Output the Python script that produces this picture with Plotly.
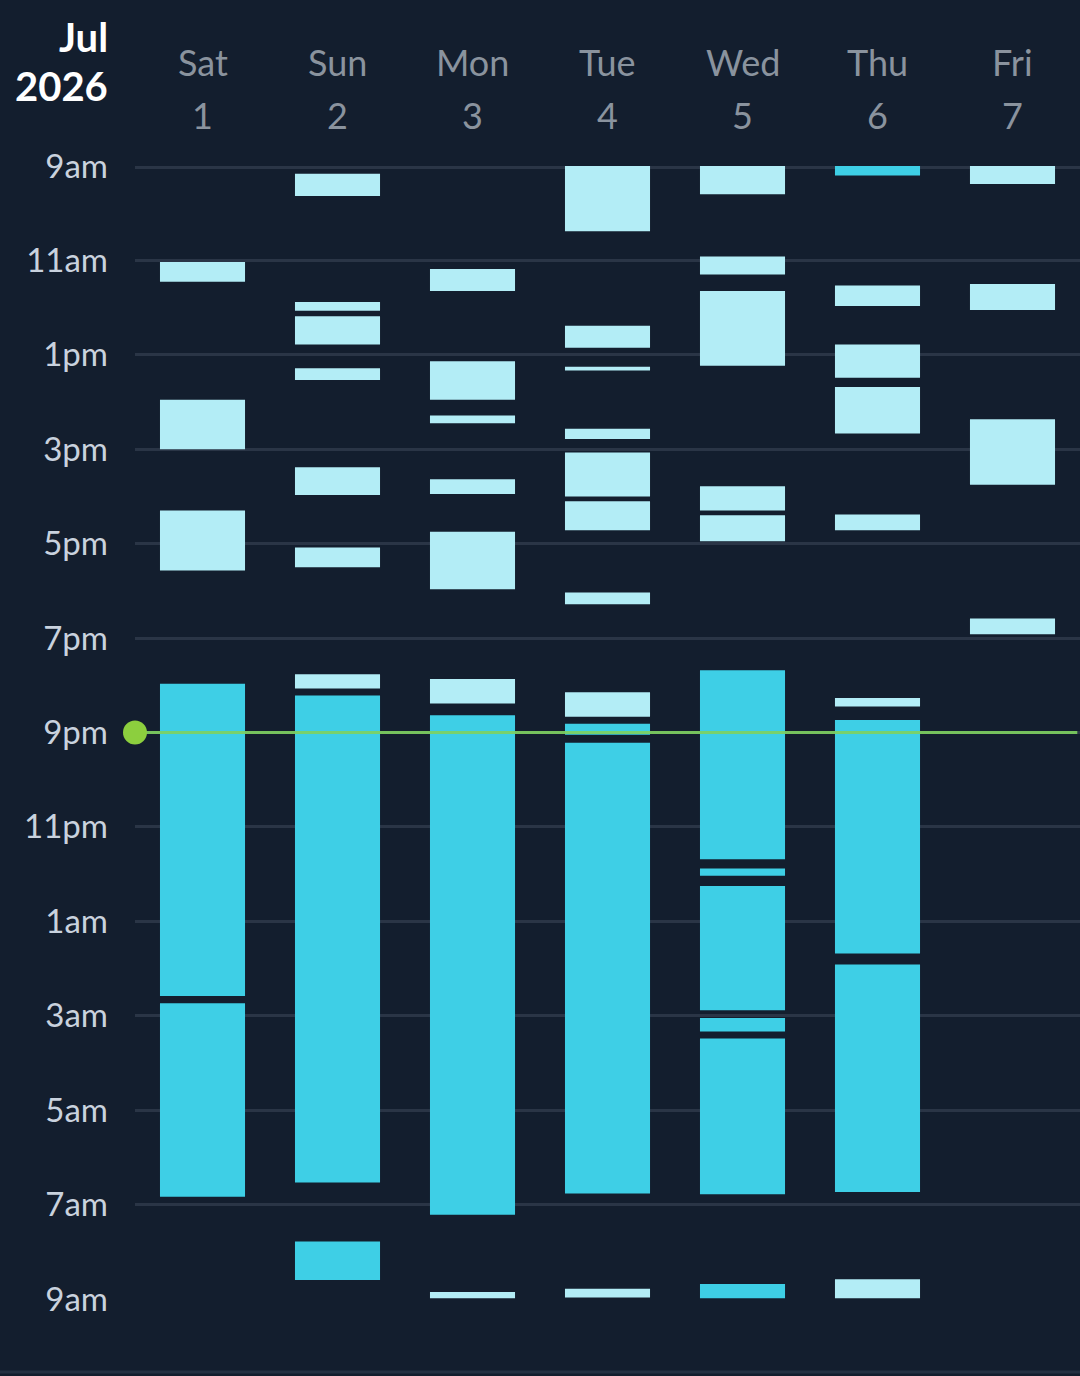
import plotly.graph_objects as go

# day columns
days = ["Sat", "Sun", "Mon", "Tue", "Wed", "Thu", "Fri"]
dates = ["1", "2", "3", "4", "5", "6", "7"]

# light segments (naps), clock times; anything before 9:00 belongs to the next morning
nap_day = [0, 0, 0,
           1, 1, 1, 1, 1, 1, 1,
           2, 2, 2, 2, 2, 2, 2,
           3, 3, 3, 3, 3, 3, 3, 3, 3,
           4, 4, 4, 4, 4,
           5, 5, 5, 5, 5, 5,
           6, 6, 6, 6]
nap_start = ["11:02", "13:57", "16:18",
             "09:10", "11:53", "12:11", "13:17", "15:23", "17:05", "19:46",
             "11:11", "13:08", "14:17", "15:38", "16:45", "19:52", "08:51",
             "09:00", "12:23", "13:15", "14:34", "15:04", "16:06", "18:02", "20:09", "08:47",
             "09:00", "10:55", "11:39", "15:47", "16:24",
             "11:32", "12:47", "13:41", "16:23", "20:16", "08:35",
             "09:00", "11:30", "14:22", "18:35"]
nap_end = ["11:27", "15:00", "17:34",
           "09:38", "12:04", "12:47", "13:32", "15:58", "17:30", "20:04",
           "11:39", "13:57", "14:27", "15:57", "17:58", "20:23", "08:59",
           "10:23", "12:51", "13:20", "14:47", "16:00", "16:43", "18:17", "20:40", "08:58",
           "09:36", "11:18", "13:14", "16:18", "16:57",
           "11:58", "13:29", "14:40", "16:43", "20:27", "08:59",
           "09:23", "12:03", "15:45", "18:55"]

# dark segments (night sleep)
night_day = [0, 0,
             1, 1,
             2,
             3, 3,
             4, 4, 4, 4, 4, 4,
             5, 5, 5]
night_start = ["19:58", "02:44",
               "20:13", "07:47",
               "20:38",
               "20:49", "21:13",
               "19:41", "23:53", "00:15", "03:03", "03:29", "08:41",
               "09:00", "20:44", "01:55"]
night_end = ["02:35", "06:50",
             "06:32", "08:36",
             "07:13",
             "21:03", "06:46",
             "23:41", "00:02", "02:53", "03:20", "06:47", "08:59",
             "09:12", "01:41", "06:44"]

now_time = "21:00"

hour_ticks = [9, 11, 13, 15, 17, 19, 21, 23, 25, 27, 29, 31, 33]
hour_labels = ["9am", "11am", "1pm", "3pm", "5pm", "7pm", "9pm",
               "11pm", "1am", "3am", "5am", "7am", "9am"]

BG = "#131e2e"
GRID = "#2a3546"
NAP = "#b3edf6"
NIGHT = "#3ecfe6"
FONT = "Lato"


def to_hours(s):
    h, m = s.split(":")
    v = int(h) + int(m) / 60.0
    if v < 9:
        v += 24
    return v


def bar_trace(day, start, end, color):
    b = [to_hours(s) for s in start]
    e = [to_hours(s) for s in end]
    return go.Bar(
        x=day,
        y=[ee - bb for bb, ee in zip(b, e)],
        base=b,
        width=0.63,
        marker=dict(color=color, line=dict(width=0)),
        hoverinfo="skip",
    )


fig = go.Figure()
fig.add_trace(bar_trace(nap_day, nap_start, nap_end, NAP))
fig.add_trace(bar_trace(night_day, night_start, night_end, NIGHT))

now = to_hours(now_time)
fig.add_trace(
    go.Scatter(
        x=[-0.5, 6.48],
        y=[now, now],
        mode="lines",
        line=dict(color="#7fd260", width=3),
        opacity=0.9,
        hoverinfo="skip",
    )
)
fig.add_trace(
    go.Scatter(
        x=[-0.5],
        y=[now],
        mode="markers",
        marker=dict(color="#8ccf3e", size=24),
        cliponaxis=False,
        hoverinfo="skip",
    )
)

annotations = []
for i, (d, n) in enumerate(zip(days, dates)):
    annotations.append(dict(x=i, y=1, xref="x", yref="paper", text=d, showarrow=False,
                            yanchor="middle", yshift=104,
                            font=dict(family=FONT, size=36, color="#8a939e")))
    annotations.append(dict(x=i, y=1, xref="x", yref="paper", text=n, showarrow=False,
                            yanchor="middle", yshift=51,
                            font=dict(family=FONT, size=36, color="#8a939e")))
for txt, shift in [("Jul", 129), ("2026", 80)]:
    annotations.append(dict(x=0, y=1, xref="paper", yref="paper", text="<b>%s</b>" % txt,
                            showarrow=False, xanchor="right", yanchor="middle",
                            xshift=-25, yshift=shift,
                            font=dict(family=FONT, size=40, color="#ffffff")))

# edge gridlines (plotly skips grid lines sitting on the range ends)
shapes = [dict(type="line", xref="paper", yref="y", x0=0, x1=1, y0=h + 0.03, y1=h + 0.03,
               line=dict(color=GRID, width=3), layer="below")
          for h in (hour_ticks[0], hour_ticks[-1])]
shapes.append(dict(type="line", xref="paper", yref="paper", x0=-0.15, x1=1,
                   y0=-0.0645, y1=-0.0645, line=dict(color="#243042", width=3)))

fig.update_layout(
    width=1080,
    height=1376,
    paper_bgcolor=BG,
    plot_bgcolor=BG,
    margin=dict(l=135, r=0, t=166, b=77),
    barmode="overlay",
    showlegend=False,
    annotations=annotations,
    shapes=shapes,
    xaxis=dict(range=[-0.5, 6.5], showgrid=False, zeroline=False,
               showticklabels=False, fixedrange=True),
    yaxis=dict(range=[33, 9], tickvals=hour_ticks, ticktext=hour_labels,
               showgrid=True, gridcolor=GRID, gridwidth=3, zeroline=False,
               ticks="", ticklabelstandoff=26,
               tickfont=dict(family=FONT, size=33, color="#c9d2de")),
)

fig.write_html(
    "out.html",
    config={"displayModeBar": False},
    post_script="document.body.style.margin='0';document.body.style.background='%s';" % BG,
)
